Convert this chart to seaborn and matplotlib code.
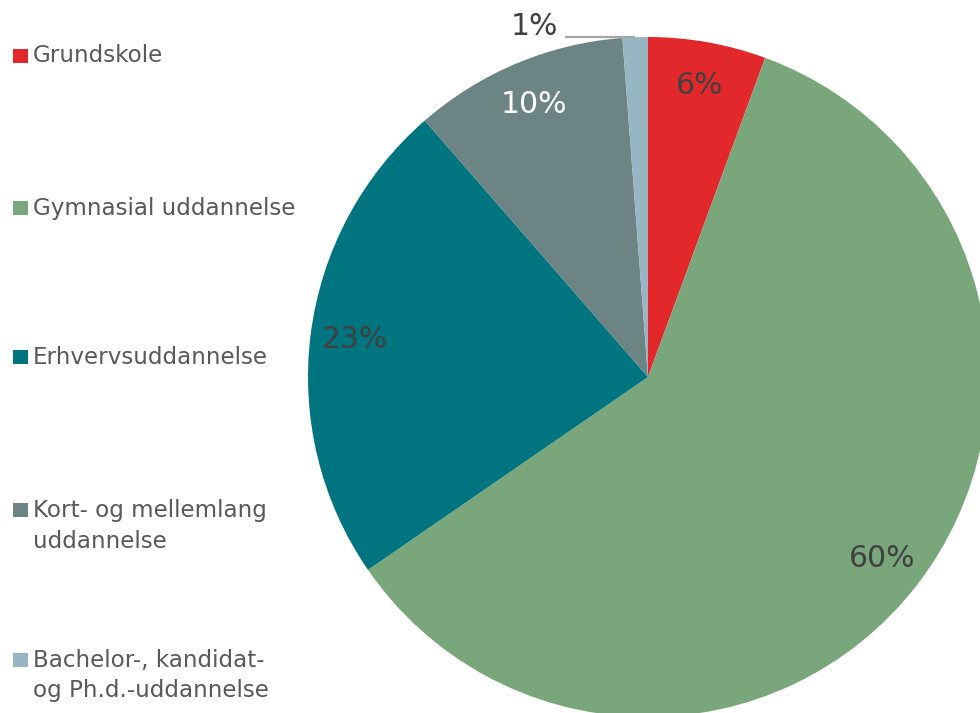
import matplotlib
matplotlib.use("Agg")
import matplotlib.pyplot as plt
import seaborn as sns
import numpy as np
from matplotlib.patches import Rectangle

categories = ["Grundskole", "Gymnasial uddannelse", "Erhvervsuddannelse",
              "Kort- og mellemlang\nuddannelse", "Bachelor-, kandidat-\nog Ph.d.-uddannelse"]
values = [5.6, 59.8, 23.2, 10.2, 1.2]
pct_labels = ["6%", "60%", "23%", "10%", "1%"]
colors = ["#E3282C", "#79A77B", "#00747F", "#6C8483", "#98B5C3"]
label_colors = ["#404040", "#404040", "#404040", "#FFFFFF", "#404040"]

sns.set_theme(style="white")
plt.rcParams['font.family'] = ['DejaVu Sans']

W, H = 980, 713
fig = plt.figure(figsize=(W / 100, H / 100), dpi=100)
cx, cy, R = 648, 377, 340
ax = fig.add_axes([(cx - R) / W, (H - cy - R) / H, 2 * R / W, 2 * R / H])
wedges, _ = ax.pie(values, colors=colors, startangle=90, counterclock=False,
                   radius=1, wedgeprops=dict(linewidth=0))
ax.set_xlim(-1, 1)
ax.set_ylim(-1, 1)
ax.set_aspect('equal')
ax.axis('off')
for w in wedges:
    w.set_clip_on(False)

# inside labels
for i, w in enumerate(wedges[:4]):
    mid = np.deg2rad((w.theta1 + w.theta2) / 2)
    r = 0.87
    ax.text(r * np.cos(mid), r * np.sin(mid), pct_labels[i], ha='center', va='center',
            fontsize=21.5, color=label_colors[i], clip_on=False)

# outside label for the smallest slice
w = wedges[4]
mid = np.deg2rad((w.theta1 + w.theta2) / 2)
ex, ey = np.cos(mid), np.sin(mid)
ax.plot([-0.244, ex], [ey, ey], color="#A6A6A6", lw=1.6, clip_on=False, solid_capstyle='butt')
ax.text(-0.265, 1.03, pct_labels[4], ha='right', va='center', fontsize=21.5,
        color=label_colors[4], clip_on=False)

# legend (manual)
first_line_y = [56, 208, 357, 510, 660]
line_gap = 31
for cat, col, y in zip(categories, colors, first_line_y):
    fig.patches.append(Rectangle((13 / W, (H - y - 7) / H), 15 / W, 14 / H,
                                 transform=fig.transFigure, facecolor=col,
                                 edgecolor='none'))
    for k, line in enumerate(cat.split("\n")):
        fig.text(33 / W, (H - y - k * line_gap) / H, line, ha='left', va='center',
                 fontsize=16.6, color="#595959")

fig.savefig("out.png", dpi=100)
